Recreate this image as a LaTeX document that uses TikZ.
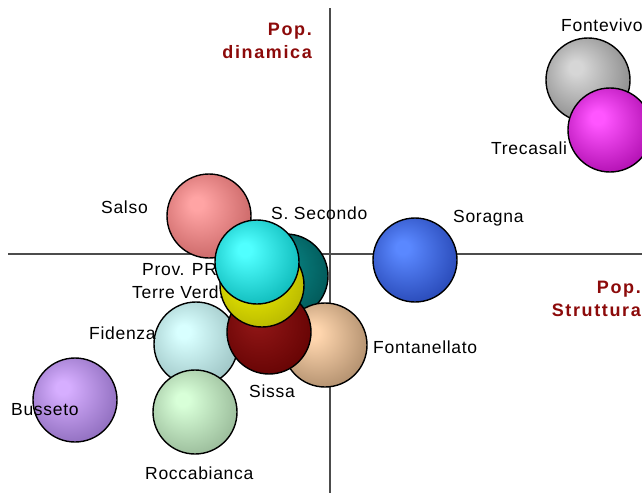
\documentclass[tikz,border=0pt]{standalone}
\usepackage{fontspec}
\setmainfont[LetterSpace=4]{Liberation Sans}
\newfontfamily\popfont[LetterSpace=9]{Liberation Sans}
\usepackage{tikz}

\definecolor{poptext}{HTML}{8C0A0A}
\definecolor{fontevivoA}{HTML}{D6D6D6}   \definecolor{fontevivoB}{HTML}{7C7C7C}
\definecolor{trecasaliA}{HTML}{FF55FF}   \definecolor{trecasaliB}{HTML}{A000A0}
\definecolor{salsoA}{HTML}{FFA4A4}       \definecolor{salsoB}{HTML}{BF5A5A}
\definecolor{soragnaA}{HTML}{5A88FF}     \definecolor{soragnaB}{HTML}{1E3CA8}
\definecolor{bussetoA}{HTML}{D6AEFF}     \definecolor{bussetoB}{HTML}{8060B0}
\definecolor{fidenzaA}{HTML}{D8FFFF}     \definecolor{fidenzaB}{HTML}{92B8B8}
\definecolor{roccabiancaA}{HTML}{D8FFD8} \definecolor{roccabiancaB}{HTML}{8CAC8C}
\definecolor{ssecondoA}{HTML}{0A8A8A}    \definecolor{ssecondoB}{HTML}{004E4E}
\definecolor{fontanellatoA}{HTML}{FFD6AE}\definecolor{fontanellatoB}{HTML}{A08060}
\definecolor{sissaA}{HTML}{8E1515}       \definecolor{sissaB}{HTML}{5E0000}
\definecolor{terreverdA}{HTML}{F2F200}   \definecolor{terreverdB}{HTML}{ACAC00}
\definecolor{provprA}{HTML}{50FFFF}      \definecolor{provprB}{HTML}{00ACAC}

\pgfdeclareradialshading[bubin,bubout]{bubshade}{\pgfqpoint{-8bp}{8bp}}{color(0bp)=(bubin); color(4bp)=(bubin); color(36bp)=(bubout); color(50bp)=(bubout)}

\tikzset{
	bub/.style 2 args={circle, draw=black, line width=1.4pt, minimum size=84pt, inner sep=0pt, /utils/exec={\colorlet{bubin}{#1}\colorlet{bubout}{#2}}, shading=bubshade},
	lab/.style={anchor=base west, inner sep=0pt, font=\fontsize{17.5}{21}\selectfont},
	poplab/.style={anchor=east, align=right, inner sep=0pt, text=poptext, font=\popfont\bfseries\fontsize{18}{23}\selectfont},
	axis/.style={black!70, line width=1.1pt}
}

\begin{document}
\begin{tikzpicture}[x=1pt, y=-1pt]
				\useasboundingbox (0,0) rectangle (642,493);
				
				% Axes
				\coordinate (ytop) at (330,8);
				\coordinate (ybot) at (330,493);
				\coordinate (xleft) at (8,254);
				\coordinate (xright) at (642,254);
				\draw[axis] (ytop) -- (ybot);
				\draw[axis] (xleft) -- (xright);
				
				\node (popdin) [poplab] at (312,41) {Pop.\\dinamica};
				\node (popstr) [poplab] at (641,299) {Pop.\\Struttura};
				
				% Bubbles
				\node (fontevivo) [bub={fontevivoA}{fontevivoB}] at (588,80) {};
				\node (trecasali) [bub={trecasaliA}{trecasaliB}] at (610,130) {};
				\node (salso) [bub={salsoA}{salsoB}] at (209,216) {};
				\node (soragna) [bub={soragnaA}{soragnaB}] at (415,260) {};
				\node (busseto) [bub={bussetoA}{bussetoB}] at (75,400) {};
				\node (fidenza) [bub={fidenzaA}{fidenzaB}] at (196,344) {};
				\node (roccabianca) [bub={roccabiancaA}{roccabiancaB}] at (195,412) {};
				\node (ssecondo) [bub={ssecondoA}{ssecondoB}] at (286,276) {};
				\node (fontanellato) [bub={fontanellatoA}{fontanellatoB}] at (325,345) {};
				\node (sissa) [bub={sissaA}{sissaB}] at (269,332) {};
				\node (terreverd) [bub={terreverdA}{terreverdB}] at (262,285) {};
				\node (provprText) [lab] at (142,275) {Prov. PR};
				\node (provpr) [bub={provprA}{provprB}] at (257,262) {};
				
				% Labels
				\node (fontevivoText) [lab] at (561,31) {Fontevivo};
				\node (trecasaliText) [lab] at (491,154) {Trecasali};
				\node (salsoText) [lab] at (101,213) {Salso};
				\node (ssecondoText) [lab] at (271,219) {S. Secondo};
				\node (soragnaText) [lab] at (453,222) {Soragna};
				\node (terreverdText) [lab] at (132,298) {Terre Verd.};
				\node (fidenzaText) [lab] at (89,339) {Fidenza};
				\node (fontanellatoText) [lab] at (373,353) {Fontanellato};
				\node (sissaText) [lab] at (249,397) {Sissa};
				\node (bussetoText) [lab] at (11,415) {Busseto};
				\node (roccabiancaText) [lab] at (145,479) {Roccabianca};
				
			\end{tikzpicture}
\end{document}
